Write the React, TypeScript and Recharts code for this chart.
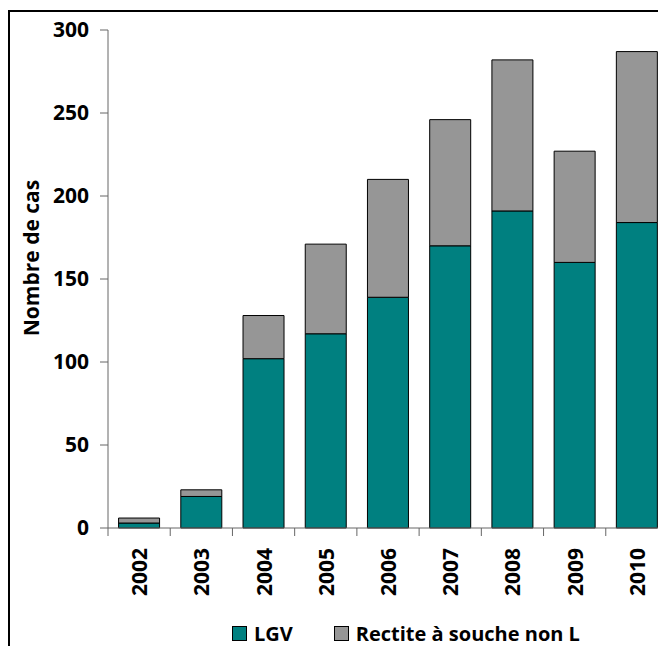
import React from 'react';
import { BarChart, Bar, XAxis, YAxis, Legend } from 'recharts';

const years = ['2002', '2003', '2004', '2005', '2006', '2007', '2008', '2009', '2010'];
const lgv = [3, 19, 102, 117, 139, 170, 191, 160, 184];
const rectite = [3, 4, 26, 54, 71, 76, 91, 67, 103];
const yTicks = [0, 50, 100, 150, 200, 250, 300];

const seriesNames = { lgv: 'LGV', rectite: 'Rectite à souche non L' };
const FONT = '"Open Sans", sans-serif';

const data = years.map((y, i) => ({ year: y, lgv: lgv[i], rectite: rectite[i] }));

const YearTick = (props: any) => {
  const { x, y, payload } = props;
  const off = payload.offset ?? 0;
  return (
    <g>
      <line x1={x - off} x2={x - off} y1={y - 20} y2={y - 12} stroke="#666" />
      <text
        x={x}
        y={y}
        transform={`rotate(-90 ${x} ${y})`}
        textAnchor="end"
        dominantBaseline="central"
        fontFamily={FONT}
        fontWeight={700}
        fontSize={21}
        fill="#000"
      >
        {payload.value}
      </text>
    </g>
  );
};

const LegendBox = (props: any) => {
  const items = props.payload || [];
  return (
    <div style={{ display: 'flex', alignItems: 'center', fontFamily: FONT, fontWeight: 700, fontSize: 20, color: '#000' }}>
      {items.map((it: any, i: number) => (
        <div key={i} style={{ display: 'flex', alignItems: 'center', marginRight: i === 0 ? 41 : 0 }}>
          <span style={{ width: 13, height: 13, background: it.color, border: '1px solid #000', marginRight: 7, display: 'inline-block' }} />
          <span>{it.value}</span>
        </div>
      ))}
    </div>
  );
};

export default function App() {
  return (
    <div style={{ position: 'relative', width: 658, height: 646, overflow: 'hidden', marginBottom: -8 }}>
      <div style={{ position: 'absolute', left: 0, top: 2, width: 720, height: 720, border: '2px solid #000', boxSizing: 'border-box' }} />
      <div style={{ position: 'absolute', left: 0, top: 0 }}>
        <BarChart
          width={700}
          height={646}
          data={data}
          margin={{ top: 22, right: 40, bottom: 26, left: 0 }}
          barCategoryGap="17%"
        >
          <XAxis
            dataKey="year"
            height={70}
            tickSize={8}
            tickMargin={12}
            tickLine={false}
            axisLine={{ stroke: '#666' }}
            tick={<YearTick />}
            interval={0}
          />
          <YAxis
            width={100}
            domain={[0, 300]}
            ticks={yTicks}
            tickSize={8}
            tickMargin={11}
            axisLine={{ stroke: '#666' }}
            tickLine={{ stroke: '#666' }}
            tick={{ fontFamily: FONT, fontWeight: 700, fontSize: 21, fill: '#000' }}
            label={{
              content: () => (
                <text
                  x={23}
                  y={250}
                  transform="rotate(-90 23 250)"
                  textAnchor="middle"
                  dominantBaseline="central"
                  fontFamily={FONT}
                  fontWeight={700}
                  fontSize={21}
                  fill="#000"
                >
                  Nombre de cas
                </text>
              ),
            }}
          />
          <Legend
            height={30}
            content={<LegendBox />}
            wrapperStyle={{ left: 224, top: 612, width: 420 }}
          />
          <Bar dataKey="lgv" name={seriesNames.lgv} stackId="a" fill="#008080" stroke="#000" strokeWidth={1} isAnimationActive={false} />
          <Bar dataKey="rectite" name={seriesNames.rectite} stackId="a" fill="#969696" stroke="#000" strokeWidth={1} isAnimationActive={false} />
        </BarChart>
      </div>
    </div>
  );
}
